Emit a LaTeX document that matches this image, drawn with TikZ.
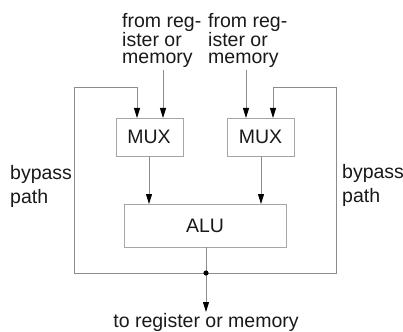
\documentclass[tikz,border=0pt]{standalone}
\usepackage{fontspec}
\setmainfont{Liberation Sans}
\usetikzlibrary{arrows.meta}
\begin{document}
\begin{tikzpicture}[x=1pt,y=-1pt,
  wire/.style={draw=black!45,line width=0.9pt},
  arr/.style={wire,-{Triangle[length=10pt,width=6pt,color=black]}},
  box/.style={draw=black!35,line width=0.9pt,inner sep=0pt},
  lbl/.style={inner sep=0pt,text=black!90,font=\fontsize{19.5}{17}\selectfont},
  side/.style={inner sep=0pt,text=black!90,align=left,font=\fontsize{19.5}{24}\selectfont}]
\useasboundingbox (0,0) rectangle (403,331);
% boxes
\draw[box] (116,118) rectangle (183,156);
\node[lbl] (mux1) at (149,137) {MUX};
\draw[box] (227,118) rectangle (294,156);
\node[lbl] (mux2) at (260.5,137) {MUX};
\draw[box] (124,204) rectangle (286,247);
\node[lbl] (alu) at (205,225.5) {ALU};
% coordinates
\coordinate (fromA) at (163,70);
\coordinate (fromAin) at (163,118);
\coordinate (fromB) at (246,70);
\coordinate (fromBin) at (246,118);
\coordinate (byLin) at (137,118);
\coordinate (byRin) at (273,118);
\coordinate (m1out) at (149,156);
\coordinate (m1alu) at (149,204);
\coordinate (m2out) at (261,156);
\coordinate (m2alu) at (261,204);
\coordinate (aluout) at (206,247);
\coordinate (dot) at (206,273);
\coordinate (outend) at (206,312);
% texts
\node[lbl,align=left,anchor=north west] (fa) at (122,12.8) {from reg-\\ister or\\memory};
\node[lbl,align=left,anchor=north west] (fb) at (208,12.8) {from reg-\\ister or\\memory};
\node[side,anchor=north west] (bl) at (10,164.8) {bypass\\path};
\node[side,anchor=north west] (br) at (342,164.3) {bypass\\path};
\node[lbl,anchor=base] (to) at (206,327) {to register or memory};
% connectors
\draw[arr] (fromA) -- (fromAin);
\draw[arr] (fromB) -- (fromBin);
\draw[arr] (dot) -- (74,273) -- (74,87) -- (137,87) -- (byLin);
\draw[arr] (dot) -- (336,273) -- (336,87) -- (273,87) -- (byRin);
\draw[arr] (m1out) -- (m1alu);
\draw[arr] (m2out) -- (m2alu);
\draw[wire] (aluout) -- (dot);
\draw[arr] (dot) -- (outend);
\fill (dot) circle (2.6pt);
\end{tikzpicture}
\end{document}
